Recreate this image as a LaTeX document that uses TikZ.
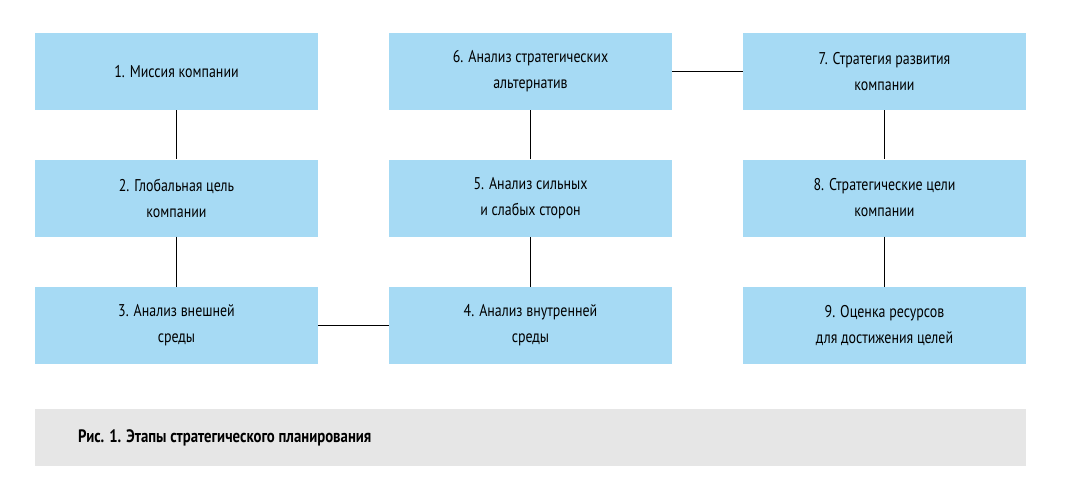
\documentclass[tikz,border=0pt]{standalone}
\usepackage{fontspec}
\setmainfont[FakeStretch=0.82]{PT Sans}
\begin{document}
\begin{tikzpicture}[x=1pt,y=-1pt,
  box/.style={fill=boxblue,draw=none,minimum width=283pt,minimum height=77pt,align=center,inner sep=0pt,font=\fontsize{17}{26}\selectfont},
  conn/.style={draw=black,line width=0.8pt}]
\definecolor{boxblue}{HTML}{A6DAF4}
\definecolor{capgray}{HTML}{E6E6E6}
\useasboundingbox (0,0) rectangle (1081,492);
\node[box] (n1) at (176.5,71.5) {1. Миссия компании};
\node[box] (n2) at (176.5,198) {2. Глобальная цель\\компании};
\node[box] (n3) at (176.5,325.5) {3. Анализ внешней\\среды};
\node[box] (n4) at (530.5,325.5) {4. Анализ внутренней\\среды};
\node[box] (n5) at (530.5,198) {5. Анализ сильных\\и слабых сторон};
\node[box] (n6) at (530.5,71.5) {6. Анализ стратегических\\альтернатив};
\node[box] (n7) at (884.5,71.5) {7. Стратегия развития\\компании};
\node[box] (n8) at (884.5,198) {8. Стратегические цели\\компании};
\node[box] (n9) at (884.5,325.5) {9. Оценка ресурсов\\для достижения целей};
\draw[conn] (n1) -- (n2);
\draw[conn] (n2) -- (n3);
\draw[conn] (n3) -- (n4);
\draw[conn] (n4) -- (n5);
\draw[conn] (n5) -- (n6);
\draw[conn] (n6) -- (n7);
\draw[conn] (n7) -- (n8);
\draw[conn] (n8) -- (n9);
\node[fill=capgray,minimum width=991pt,minimum height=57pt,inner sep=0pt] (cap) at (530.5,437.5) {};
\node[anchor=west,inner sep=0pt,font=\fontsize{18}{22}\selectfont\bfseries] (capt) at (78,438) {Рис. 1. Этапы стратегического планирования};
\end{tikzpicture}
\end{document}
